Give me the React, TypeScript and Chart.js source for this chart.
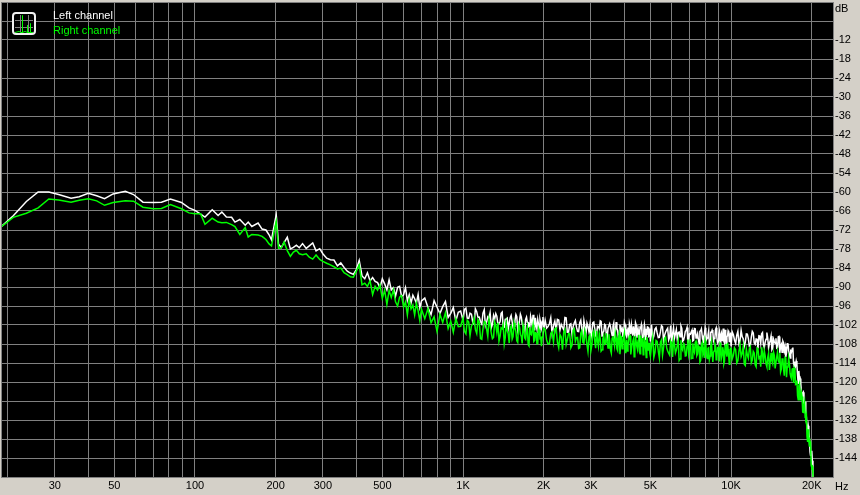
import { useEffect, useRef } from "react";
import { Chart, registerables } from "chart.js";

Chart.register(...registerables);

// ---------- axis definitions ----------
const X_MIN_HZ = 18.9;
const X_MAX_HZ = 24000;
const Y_MIN_DB = -150;
const Y_MAX_DB = 0;

const GRID_HZ = [20, 30, 40, 50, 60, 70, 80, 90, 100, 200, 300, 400, 500, 600, 700, 800, 900,
  1000, 2000, 3000, 4000, 5000, 6000, 7000, 8000, 9000, 10000, 20000];
const X_LABEL_HZ = [30, 50, 100, 200, 300, 500, 1000, 2000, 3000, 5000, 10000, 20000];
const X_LABEL_TEXT = ["30", "50", "100", "200", "300", "500", "1K", "2K", "3K", "5K", "10K", "20K"];

const DB_TICKS = [0, -6, -12, -18, -24, -30, -36, -42, -48, -54, -60, -66, -72, -78, -84, -90,
  -96, -102, -108, -114, -120, -126, -132, -138, -144, -150];
const DB_LABELED = [-12, -18, -24, -30, -36, -42, -48, -54, -60, -66, -72, -78, -84, -90,
  -96, -102, -108, -114, -120, -126, -132, -138, -144];

const SERIES_NAMES = ["Left channel", "Right channel"];

// ---------- frequencies (Hz) ----------
const FREQ_LOW = [18.9, 21, 23.5, 26, 28.5, 31, 34.5, 37, 40, 43, 46, 49.5, 55, 59, 64, 70, 75, 81,
  89, 95, 100, 105, 109, 116, 122, 126, 131, 137, 141, 147, 154, 158, 163, 172, 178, 184, 189, 193,
  198, 201, 205, 210, 215, 221, 227, 233, 239, 245, 252, 260, 267, 275, 283, 292, 300, 310, 320,
  330, 340, 350, 360, 370, 380, 390, 400, 410, 420, 430];
const FREQ_A = [440, 450, 460, 470, 480, 490, 500, 510, 520, 530, 540, 550, 560, 570, 580, 590,
  600, 610, 620, 630, 640, 650, 660, 670, 680, 690, 700];
const FREQ_B = [720, 740, 760, 780, 800, 820, 840, 860, 880, 900, 920, 940, 960, 980, 1000];
const FREQ_C = [1025, 1050, 1075, 1100, 1125, 1150, 1175, 1200, 1225, 1250, 1275, 1300, 1325, 1350,
  1375, 1400, 1425, 1450, 1475, 1500, 1525, 1550, 1575, 1600, 1625, 1650, 1675, 1700, 1725, 1750,
  1775, 1800, 1825, 1850, 1875, 1900, 1925, 1950, 1975, 2000];
const FREQ_C2 = [1012, 1037, 1062, 1087, 1112, 1137, 1162, 1187, 1212, 1237, 1262, 1287, 1312, 1337,
  1362, 1387, 1412, 1437, 1462, 1487, 1512, 1537, 1562, 1587, 1612, 1637, 1662, 1687, 1712, 1737,
  1762, 1787, 1812, 1837, 1862, 1887, 1912, 1937, 1962, 1987];
const FREQ_D = [2050, 2100, 2150, 2200, 2250, 2300, 2350, 2400, 2450, 2500, 2550, 2600, 2650, 2700,
  2750, 2800, 2850, 2900, 2950, 3000, 3050, 3100, 3150, 3200, 3250, 3300, 3350, 3400, 3450, 3500,
  3550, 3600, 3650, 3700, 3750, 3800, 3850, 3900, 3950, 4000, 4050, 4100, 4150, 4200, 4250, 4300,
  4350, 4400, 4450, 4500, 4550, 4600, 4650, 4700, 4750, 4800, 4850, 4900, 4950, 5000];
const FREQ_D2 = [2025, 2075, 2125, 2175, 2225, 2275, 2325, 2375, 2425, 2475, 2525, 2575, 2625, 2675,
  2725, 2775, 2825, 2875, 2925, 2975, 3025, 3075, 3125, 3175, 3225, 3275, 3325, 3375, 3425, 3475,
  3525, 3575, 3625, 3675, 3725, 3775, 3825, 3875, 3925, 3975, 4025, 4075, 4125, 4175, 4225, 4275,
  4325, 4375, 4425, 4475, 4525, 4575, 4625, 4675, 4725, 4775, 4825, 4875, 4925, 4975];
const FREQ_E = [5100, 5200, 5300, 5400, 5500, 5600, 5700, 5800, 5900, 6000, 6100, 6200, 6300, 6400,
  6500, 6600, 6700, 6800, 6900, 7000, 7100, 7200, 7300, 7400, 7500, 7600, 7700, 7800, 7900, 8000,
  8100, 8200, 8300, 8400, 8500, 8600, 8700, 8800, 8900, 9000, 9100, 9200, 9300, 9400, 9500, 9600,
  9700, 9800, 9900, 10000];
const FREQ_E2 = [5050, 5150, 5250, 5350, 5450, 5550, 5650, 5750, 5850, 5950, 6050, 6150, 6250, 6350,
  6450, 6550, 6650, 6750, 6850, 6950, 7050, 7150, 7250, 7350, 7450, 7550, 7650, 7750, 7850, 7950,
  8050, 8150, 8250, 8350, 8450, 8550, 8650, 8750, 8850, 8950, 9050, 9150, 9250, 9350, 9450, 9550,
  9650, 9750, 9850, 9950];
const FREQ_F = [10200, 10400, 10600, 10800, 11000, 11200, 11400, 11600, 11800, 12000, 12200, 12400,
  12600, 12800, 13000, 13200, 13400, 13600, 13800, 14000, 14200, 14400, 14600, 14800, 15000, 15200,
  15400, 15600, 15800, 16000, 16200, 16400, 16600, 16800, 17000, 17200, 17400, 17600, 17800, 18000,
  18200, 18400, 18600, 18800, 19000, 19200, 19400, 19600, 19800, 20000, 20200, 20400];
const FREQ_F2 = [10100, 10300, 10500, 10700, 10900, 11100, 11300, 11500, 11700, 11900, 12100, 12300,
  12500, 12700, 12900, 13100, 13300, 13500, 13700, 13900, 14100, 14300, 14500, 14700, 14900, 15100,
  15300, 15500, 15700, 15900, 16100, 16300, 16500, 16700, 16900, 17100, 17300, 17500, 17700, 17900,
  18100, 18300, 18500, 18700, 18900, 19100, 19300, 19500, 19700, 19900, 20100, 20300];

// ---------- left channel (dB) ----------
const LEFT_LOW = [-71.0, -67.5, -63.0, -60.0, -60.0, -60.8, -62.0, -61.5, -60.4, -61.2, -62.1, -60.6,
  -59.8, -60.8, -63.2, -63.3, -63.2, -62.2, -63.3, -65.0, -65.8, -67.0, -67.9, -65.6, -67.4, -66.3,
  -67.9, -68.0, -69.5, -68.7, -70.5, -69.5, -70.9, -69.8, -71.7, -72.0, -73.5, -75.1, -70.0, -67.2,
  -76.5, -77.5, -76.0, -74.3, -78.0, -77.5, -76.8, -77.6, -76.3, -77.8, -77.0, -76.1, -78.6, -77.9,
  -79.5, -80.9, -81.4, -81.5, -83.3, -82.4, -83.8, -85.0, -85.6, -86.0, -84.5, -81.6, -86.5, -87.4];
const LEFT_A = [-85.5, -88.1, -87.0, -88.2, -88.6, -90.2, -87.4, -89.0, -90.9, -87.7, -90.9, -90.2,
  -92.9, -90.1, -89.8, -93.0, -92.5, -90.2, -94.3, -92.4, -95.0, -92.6, -93.7, -95.1, -92.4, -96.5, -94.4];
const LEFT_B = [-93.5, -96.5, -98.7, -94.3, -96.4, -98.4, -96.2, -94.6, -99.6, -98.3, -96.5, -100.7,
  -98.0, -97.6, -100.5];
const LEFT_C = [-96.7, -99.9, -98.6, -101.7, -97.8, -99.5, -101.7, -97.2, -101.0, -99.8,
  -102.9, -99.0, -98.4, -101.9, -101.0, -97.9, -102.7, -100.1, -103.1, -99.7,
  -101.0, -102.3, -98.7, -103.6, -100.7, -99.5, -102.3, -104.1, -99.5, -101.2,
  -103.0, -100.7, -98.8, -103.7, -102.2, -100.3, -104.3, -101.4, -100.8, -103.5];
const LEFT_C2 = [-97.1, -99.8, -98.3, -101.1, -96.9, -99.6, -100.9, -98.3, -102.2, -99.4,
  -98.1, -101.8, -100.2, -99.2, -101.5, -98.3, -102.9, -100.2, -99.8, -101.4,
  -99.0, -102.7, -100.7, -99.4, -102.3, -98.6, -101.6, -103.2, -100.2, -101.1,
  -102.7, -99.3, -102.3, -100.8, -99.7, -103.3, -101.6, -100.2, -102.8, -99.5];
const LEFT_D = [-103.0, -101.6, -104.7, -100.8, -100.2, -103.6, -102.7, -99.6, -104.3, -101.8,
  -104.8, -101.4, -102.7, -104.1, -100.5, -105.4, -102.5, -101.4, -104.1, -106.0,
  -101.3, -103.1, -104.9, -102.5, -100.7, -105.5, -104.0, -102.1, -106.1, -103.1,
  -102.6, -105.3, -101.4, -104.5, -103.1, -106.1, -102.2, -103.7, -105.8, -101.2,
  -105.0, -103.6, -106.6, -102.7, -102.0, -105.4, -104.5, -101.3, -106.0, -103.4,
  -106.4, -103.0, -104.2, -105.6, -101.9, -106.8, -103.8, -102.7, -105.4, -107.2];
const LEFT_D2 = [-100.5, -102.5, -99.7, -102.2, -103.7, -100.4, -101.8, -103.5, -99.7, -104.3,
  -101.6, -102.5, -100.6, -104.0, -101.3, -103.3, -100.6, -104.7, -102.4, -101.9,
  -104.0, -101.1, -105.3, -102.4, -103.2, -100.9, -104.4, -101.8, -104.9, -103.1,
  -101.6, -104.1, -102.4, -105.6, -101.1, -103.7, -105.1, -102.3, -103.2, -104.5,
  -102.0, -105.6, -102.8, -101.6, -104.9, -103.7, -102.4, -105.6, -102.0, -104.3,
  -105.3, -102.8, -102.0, -106.1, -103.8, -103.3, -104.9, -102.6, -105.6, -103.1];
const LEFT_E = [-106.6, -103.3, -104.5, -105.9, -102.2, -107.1, -104.2, -103.0, -105.8, -107.6,
  -102.9, -104.7, -106.5, -104.2, -102.3, -107.1, -105.7, -103.7, -107.8, -104.8,
  -104.2, -107.0, -103.1, -106.1, -104.7, -107.8, -103.8, -105.3, -107.5, -102.9,
  -106.6, -105.2, -108.3, -104.3, -103.6, -107.0, -106.1, -102.9, -107.6, -105.0,
  -108.0, -104.6, -105.8, -107.1, -103.5, -108.4, -105.4, -104.2, -107.0, -108.8];
const LEFT_E2 = [-101.9, -105.5, -102.8, -106.0, -104.2, -102.6, -105.2, -103.5, -106.7, -102.2,
  -104.8, -106.2, -103.4, -104.4, -105.7, -103.1, -106.8, -104.0, -102.8, -106.1,
  -104.9, -103.6, -106.8, -103.2, -105.5, -106.5, -104.0, -103.2, -107.3, -105.0,
  -104.5, -106.1, -103.8, -106.8, -104.3, -104.2, -106.3, -103.4, -105.8, -107.2,
  -104.0, -105.3, -106.9, -103.1, -107.7, -104.9, -105.8, -103.8, -107.2, -104.4];
const LEFT_F = [-105.1, -107.8, -104.0, -107.0, -105.7, -108.7, -104.8, -106.3, -108.5, -104.0,
  -107.7, -106.4, -109.4, -105.5, -104.8, -108.3, -107.5, -104.4, -109.2, -106.8,
  -109.8, -106.5, -107.8, -109.3, -105.7, -110.8, -108.1, -107.1, -110.1, -112.1,
  -107.9, -110.1, -112.4, -110.5, -109.1, -115.1, -114.8, -114.4, -120.4, -119.4,
  -120.6, -125.1, -123.2, -128.4, -129.2, -135.0, -133.8, -138.2, -143.3, -141.7,
  -150.9, -155.5];
const LEFT_F2 = [-104.2, -106.8, -105.2, -108.0, -103.7, -106.3, -107.5, -104.9, -108.7, -105.8,
  -104.5, -108.1, -106.5, -105.4, -107.7, -104.4, -109.1, -106.5, -106.1, -107.9,
  -105.5, -109.3, -107.3, -106.2, -109.1, -105.6, -108.7, -110.6, -107.7, -108.9,
  -110.8, -107.8, -111.3, -110.2, -109.6, -114.0, -113.5, -113.4, -117.8, -116.5,
  -118.9, -123.2, -123.5, -128.3, -126.2, -131.2, -135.2, -135.3, -142.1, -142.1,
  -144.9, -154.3];

// ---------- right channel (dB) ----------
const RIGHT_LOW = [-71.0, -68.0, -66.7, -65.0, -62.2, -62.5, -63.2, -62.6, -62.1, -62.8,
  -64.2, -63.3, -62.8, -62.9, -64.8, -65.3, -65.2, -64.0, -65.3, -66.6,
  -66.9, -66.9, -70.2, -68.3, -69.5, -69.7, -69.6, -70.3, -70.9, -73.4,
  -71.2, -74.2, -73.4, -73.6, -74.0, -75.0, -76.4, -77.0, -72.0, -69.3,
  -77.8, -77.6, -75.8, -78.5, -80.3, -79.0, -78.4, -79.5, -79.8, -79.5,
  -80.6, -81.2, -79.9, -81.3, -81.9, -82.5, -83.0, -83.6, -84.3, -84.0,
  -85.5, -86.1, -86.8, -86.9, -85.0, -83.0, -89.3, -88.8];
const RIGHT_A = [-89.8, -88.0, -92.4, -89.8, -91.0, -89.3, -93.6, -91.0, -95.5, -91.1, -93.3, -90.9,
  -94.7, -96.0, -93.2, -92.7, -96.3, -94.7, -98.8, -94.0, -96.9, -95.7, -98.8, -95.1, -97.5, -100.6, -97.0];
const RIGHT_B = [-100.0, -96.8, -101.3, -99.4, -104.1, -98.6, -101.2, -98.1, -103.1, -100.8, -104.3,
  -100.0, -102.5, -102.4, -99.7];
const RIGHT_C = [-104.8, -101.1, -102.3, -99.8, -104.7, -101.2, -106.5, -100.9, -103.4, -100.1,
  -104.6, -105.9, -102.1, -101.3, -105.5, -103.2, -108.0, -101.5, -104.8, -102.9,
  -106.5, -101.4, -104.1, -107.5, -102.7, -105.6, -102.0, -106.1, -103.8, -108.2,
  -102.6, -105.1, -101.9, -106.9, -104.5, -107.9, -103.6, -106.0, -105.8, -103.0];
const RIGHT_C2 = [-104.0, -100.5, -105.4, -101.7, -103.4, -100.3, -106.3, -103.1, -101.1, -105.6,
  -102.0, -106.3, -101.0, -104.3, -107.1, -102.9, -101.9, -106.0, -103.8, -107.7,
  -102.3, -105.7, -102.9, -107.0, -101.8, -104.9, -107.8, -103.4, -106.5, -102.6,
  -108.6, -104.8, -103.3, -107.2, -104.4, -107.9, -102.9, -106.2, -108.7, -104.2];
const RIGHT_D = [-106.7, -107.9, -104.1, -103.2, -107.4, -105.0, -109.8, -103.4, -106.6, -104.8,
  -108.4, -103.2, -106.0, -109.4, -104.6, -107.5, -103.9, -108.1, -105.7, -110.1,
  -104.5, -107.0, -103.8, -108.8, -106.3, -109.8, -105.4, -107.9, -107.6, -104.9,
  -109.9, -106.2, -107.2, -104.6, -109.5, -105.9, -111.2, -105.4, -107.9, -104.5,
  -109.0, -110.2, -106.4, -105.4, -109.6, -107.2, -112.0, -105.5, -108.8, -106.9,
  -110.4, -105.3, -108.0, -111.4, -106.5, -109.5, -105.8, -109.9, -107.6, -111.9];
const RIGHT_D2 = [-103.4, -108.0, -104.6, -107.3, -102.9, -109.2, -105.8, -104.2, -108.2, -104.7,
  -109.2, -103.7, -107.1, -105.9, -109.2, -103.8, -107.8, -105.5, -110.3, -105.2,
  -108.2, -103.9, -109.3, -107.1, -104.8, -110.2, -106.3, -108.1, -104.6, -109.3,
  -107.0, -110.9, -105.5, -108.7, -106.0, -110.1, -104.8, -107.8, -109.5, -105.7,
  -110.7, -106.7, -108.5, -105.5, -111.3, -108.0, -106.4, -110.4, -107.3, -109.7,
  -105.1, -111.1, -108.6, -106.1, -110.3, -107.2, -112.3, -106.9, -109.6, -111.0];
const RIGHT_E = [-105.9, -110.7, -107.2, -112.4, -106.7, -109.1, -105.8, -110.2, -111.5, -107.6,
  -106.7, -110.8, -108.5, -113.2, -106.8, -110.0, -108.2, -111.7, -106.6, -109.3,
  -112.6, -107.8, -110.7, -107.1, -111.2, -108.9, -113.2, -107.6, -110.1, -106.9,
  -111.9, -109.4, -112.9, -108.5, -110.9, -110.7, -107.9, -113.0, -109.2, -110.3,
  -107.7, -112.5, -109.0, -114.2, -108.5, -110.9, -107.6, -112.0, -113.2, -109.4];
const RIGHT_E2 = [-108.4, -112.2, -106.9, -110.1, -107.4, -111.5, -106.2, -109.2, -110.9, -107.1,
  -112.1, -108.1, -109.9, -106.9, -112.7, -109.4, -107.8, -111.8, -108.7, -111.1,
  -106.5, -112.5, -110.0, -107.5, -111.7, -108.6, -113.7, -108.3, -111.0, -112.4,
  -108.0, -112.6, -109.2, -111.8, -107.3, -113.7, -110.2, -108.6, -112.6, -109.1,
  -113.5, -108.0, -111.4, -110.1, -113.4, -108.0, -112.0, -109.6, -114.4, -109.3];
const RIGHT_F = [-111.6, -109.8, -113.3, -108.2, -111.0, -114.4, -109.6, -112.5, -108.9, -113.1,
  -110.8, -115.2, -109.6, -112.1, -109.0, -114.0, -111.7, -115.2, -110.9, -113.5,
  -113.3, -110.6, -115.7, -112.1, -113.2, -110.8, -115.9, -112.5, -118.0, -112.4,
  -115.3, -112.4, -117.3, -119.0, -115.6, -115.6, -120.7, -119.5, -125.6, -120.5,
  -125.1, -124.6, -129.6, -126.4, -131.3, -137.2, -134.9, -140.4, -139.7, -147.0,
  -149.6, -159.9];
const RIGHT_F2 = [-112.7, -109.2, -114.0, -110.3, -112.0, -108.8, -114.8, -111.5, -109.5, -113.9,
  -110.3, -114.6, -109.3, -112.5, -115.2, -111.0, -110.1, -114.3, -112.2, -116.2,
  -110.8, -114.2, -111.6, -115.7, -110.5, -113.8, -116.8, -112.7, -116.0, -112.2,
  -118.5, -115.1, -114.1, -118.4, -116.0, -120.3, -116.2, -120.5, -124.3, -121.2,
  -125.6, -123.4, -129.5, -127.5, -131.2, -130.4, -138.9, -138.1, -138.8, -146.3,
  -146.7, -156.4];

const FREQ_PARTS = [FREQ_LOW, FREQ_A, FREQ_B, FREQ_C, FREQ_C2, FREQ_D, FREQ_D2, FREQ_E, FREQ_E2, FREQ_F, FREQ_F2];
const LEFT_PARTS = [LEFT_LOW, LEFT_A, LEFT_B, LEFT_C, LEFT_C2, LEFT_D, LEFT_D2, LEFT_E, LEFT_E2, LEFT_F, LEFT_F2];
const RIGHT_PARTS = [RIGHT_LOW, RIGHT_A, RIGHT_B, RIGHT_C, RIGHT_C2, RIGHT_D, RIGHT_D2, RIGHT_E, RIGHT_E2, RIGHT_F, RIGHT_F2];

function toPoints(values: number[][]) {
  const pts: { x: number; y: number }[] = [];
  FREQ_PARTS.forEach((freqs, p) => {
    freqs.forEach((f, i) => pts.push({ x: f, y: values[p][i] }));
  });
  pts.sort((a, b) => a.x - b.x);
  return pts;
}

// ---------- styles ----------
const FONT = '"Liberation Sans", Arial, sans-serif';
const GRID = "#808080";
const PANEL = "#d4d0c8";
const WHITE = "#ffffff";
const GREEN = "#00ff00";

const framePlugin = {
  id: "frame",
  beforeDraw(chart: any) {
    const { ctx, chartArea: a, width, height } = chart;
    ctx.save();
    ctx.fillStyle = PANEL;
    ctx.fillRect(0, 0, width, height);
    ctx.fillStyle = "#000";
    ctx.fillRect(a.left, a.top, a.right - a.left, a.bottom - a.top);
    ctx.restore();
  },
  afterDraw(chart: any) {
    const { ctx, chartArea: a } = chart;
    ctx.save();
    ctx.strokeStyle = GRID;
    ctx.lineWidth = 1;
    ctx.beginPath();
    ctx.moveTo(a.left + 0.5, a.top);
    ctx.lineTo(a.left + 0.5, a.bottom + 1);
    ctx.stroke();

    // legend icon
    ctx.fillStyle = "#000";
    ctx.beginPath();
    ctx.roundRect(13, 13, 22, 21, 3);
    ctx.fill();
    ctx.strokeStyle = GRID;
    ctx.beginPath();
    ctx.moveTo(20.5, 15); ctx.lineTo(20.5, 32);
    ctx.moveTo(28.5, 15); ctx.lineTo(28.5, 32);
    ctx.moveTo(15, 20.5); ctx.lineTo(33, 20.5);
    ctx.moveTo(15, 27.5); ctx.lineTo(33, 27.5);
    ctx.stroke();
    ctx.strokeStyle = GREEN;
    ctx.lineWidth = 1;
    ctx.beginPath();
    ctx.moveTo(15, 32.5);
    ctx.lineTo(19, 31.5); ctx.lineTo(21, 32.5); ctx.lineTo(22.5, 32.5);
    ctx.lineTo(22.5, 15.5); ctx.lineTo(22.5, 32.5); ctx.lineTo(25, 31.5);
    ctx.lineTo(27.5, 32.5); ctx.lineTo(27.5, 25); ctx.lineTo(27.5, 32.5);
    ctx.lineTo(30.5, 32.5); ctx.lineTo(30.5, 23.5); ctx.lineTo(30.5, 32.5);
    ctx.lineTo(33, 32.5);
    ctx.stroke();
    ctx.strokeStyle = "#f0f0f0";
    ctx.lineWidth = 2;
    ctx.beginPath();
    ctx.roundRect(13, 13, 22, 21, 3);
    ctx.stroke();

    // legend texts
    ctx.font = `11px ${FONT}`;
    ctx.textAlign = "left";
    ctx.textBaseline = "alphabetic";
    const ds = chart.data.datasets;
    ctx.fillStyle = ds[0].borderColor;
    ctx.fillText(ds[0].label, 53, 19);
    ctx.fillStyle = ds[1].borderColor;
    ctx.fillText(ds[1].label, 53, 34);

    // unit labels
    ctx.fillStyle = "#000";
    ctx.fillText("dB", 835, 12);
    ctx.fillText("Hz", 835, 490);
    ctx.restore();
  },
};

export default function App() {
  const ref = useRef<HTMLCanvasElement | null>(null);

  useEffect(() => {
    if (!ref.current) return;
    const chart = new Chart(ref.current, {
      type: "line",
      data: {
        datasets: [
          {
            label: SERIES_NAMES[0],
            data: toPoints(LEFT_PARTS),
            borderColor: WHITE,
            borderWidth: 1.5,
            pointRadius: 0,
            tension: 0,
            order: 1,
          },
          {
            label: SERIES_NAMES[1],
            data: toPoints(RIGHT_PARTS),
            borderColor: GREEN,
            borderWidth: 1.5,
            pointRadius: 0,
            tension: 0,
            order: 0,
          },
        ],
      },
      options: {
        responsive: false,
        devicePixelRatio: 1,
        animation: false,
        events: [],
        layout: { padding: { left: 1, top: 2, right: 0, bottom: 0 } },
        plugins: { legend: { display: false }, tooltip: { enabled: false } },
        scales: {
          x: {
            type: "logarithmic",
            position: "bottom",
            min: X_MIN_HZ,
            max: X_MAX_HZ,
            afterBuildTicks: (s: any) => {
              s.ticks = GRID_HZ.map((v) => ({ value: v }));
            },
            afterFit: (s: any) => {
              s.height = 18;
              s.paddingLeft = 0;
              s.paddingRight = 0;
            },
            grid: { color: GRID, lineWidth: 1, drawTicks: false },
            border: { display: true, color: GRID },
            ticks: {
              autoSkip: false,
              maxRotation: 0,
              minRotation: 0,
              padding: 2,
              color: "#000",
              font: { family: FONT, size: 11 },
              callback: (v: any) => {
                const k = X_LABEL_HZ.indexOf(Number(v));
                return k >= 0 ? X_LABEL_TEXT[k] : "";
              },
            },
          },
          y: {
            type: "linear",
            position: "right",
            min: Y_MIN_DB,
            max: Y_MAX_DB,
            afterBuildTicks: (s: any) => {
              s.ticks = DB_TICKS.map((v) => ({ value: v }));
            },
            afterFit: (s: any) => {
              s.width = 27;
              s.paddingTop = 0;
              s.paddingBottom = 0;
            },
            grid: { color: GRID, lineWidth: 1, drawTicks: false },
            border: { display: true, color: GRID },
            ticks: {
              autoSkip: false,
              padding: 2,
              color: "#000",
              font: { family: FONT, size: 11 },
              callback: (v: any) => (DB_LABELED.includes(Number(v)) ? String(v) : ""),
            },
          },
        },
      },
      plugins: [framePlugin],
    } as any);
    return () => chart.destroy();
  }, []);

  return (
    <div style={{ position: "fixed", left: 0, top: 0, width: 860, height: 495 }}>
      <canvas ref={ref} width={860} height={495} style={{ display: "block", width: 860, height: 495 }} />
    </div>
  );
}
